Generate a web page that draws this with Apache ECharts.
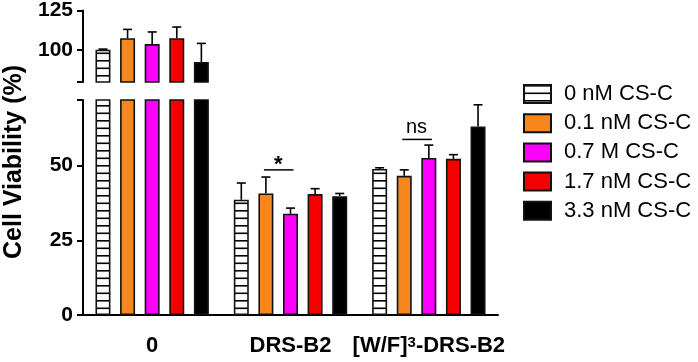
<!DOCTYPE html>
<html>
<head>
<meta charset="utf-8">
<script src="https://cdn.jsdelivr.net/npm/echarts@6/dist/echarts.min.js"></script>
<style>
  html, body { margin: 0; padding: 0; background: #fff; }
  #chart { width: 698px; height: 362px; }
</style>
</head>
<body>
<div id="chart"></div>
<script>
// data
const categories = ['0', 'DRS-B2', '[W/F]3-DRS-B2'];
const seriesNames = ['0 nM CS-C', '0.1 nM CS-C', '0.7 M CS-C', '1.7 nM CS-C', '3.3 nM CS-C'];
const cs0  = [100.3, 38.6, 48.9];
const cs01 = [107.6, 40.7, 46.6];
const cs07 = [103.9, 33.9, 52.6];
const cs17 = [107.6, 40.5, 52.3];
const cs33 = [92.6, 39.8, 63.1];
const err0  = [0.4, 5.6, 0.4];
const err01 = [5.5, 5.5, 2.0];
const err07 = [7.6, 1.9, 4.3];
const err17 = [7.0, 1.8, 1.4];
const err33 = [11.7, 0.9, 7.3];
const upperTicks = [100, 125];
const lowerTicks = [0, 25, 50];
const sigGroups = [1, 2];
const sigFrom = [1, 1];
const sigTo = [2, 2];
const sigHeights = [48.6, 58.8];
const sigLabels = ['*', 'ns'];

const means = [cs0, cs01, cs07, cs17, cs33];
const errs = [err0, err01, err07, err17, err33];

const FONT = '"Liberation Sans", Arial, Helvetica, sans-serif';
const BAR_W = 15;
const BAR_GAP = 0.64;
const STEP = BAR_W * (1 + BAR_GAP);

function hatch() {
    const c = document.createElement('canvas');
    c.width = 8; c.height = 15;
    const g = c.getContext('2d');
    g.fillStyle = '#fff';
    g.fillRect(0, 0, 8, 15);
    g.fillStyle = '#000';
    g.fillRect(0, 0, 8, 1.6);
    g.fillRect(0, 7.5, 8, 1.6);
    return c;
}

const fills = [{image: hatch(), repeat: 'repeat'}, '#F7861C', '#FF00FF', '#F50000', '#000000'];

let bars = [];
[0, 1].forEach(gi => {
    seriesNames.forEach((name, i) => {
        bars.push({
            name: name, type: 'bar', xAxisIndex: gi, yAxisIndex: gi,
            barWidth: BAR_W, barGap: (BAR_GAP * 100) + '%',
            itemStyle: {color: fills[i], borderColor: '#111', borderWidth: 1.6},
            data: means[i],
            clip: true, z: 2
        });
    });
});

let errData = [];
means.forEach((m, s) => {
    m.forEach((v, c) => errData.push([c, s, v, v + errs[s][c]]));
});

function renderErr(params, api) {
    const cs = params.coordSys;
    const c = api.value(0), s = api.value(1);
    const p0 = api.coord([c, api.value(2)]);
    const p1 = api.coord([c, api.value(3)]);
    if (p0[1] < cs.y - 1 || p0[1] > cs.y + cs.height + 1) return null;
    const x = p0[0] + (s - 2) * STEP;
    const st = {stroke: '#000', lineWidth: 1.6};
    return {
        type: 'group',
        children: [
            {type: 'line', shape: {x1: x, y1: p0[1], x2: x, y2: p1[1]}, style: st},
            {type: 'line', shape: {x1: x - 4.5, y1: p1[1], x2: x + 4.5, y2: p1[1]}, style: st}
        ]
    };
}

let errSeries = [0, 1].map(gi => ({
    type: 'custom', xAxisIndex: gi, yAxisIndex: gi, z: 3,
    renderItem: renderErr, data: errData, silent: true
}));

let sigData = sigGroups.map((g, k) => [g, sigFrom[k], sigTo[k], sigHeights[k], k]);

let sigSeries = {
    type: 'custom', xAxisIndex: 1, yAxisIndex: 1, z: 4, silent: true,
    renderItem: (params, api) => {
        const c = api.value(0);
        const p = api.coord([c, api.value(3)]);
        const x1 = p[0] + (api.value(1) - 2) * STEP;
        const x2 = p[0] + (api.value(2) - 2) * STEP;
        const label = sigLabels[api.value(4)];
        const star = label === '*';
        return {
            type: 'group',
            children: [
                {type: 'line', shape: {x1: x1 - 2, y1: p[1], x2: x2 + 3, y2: p[1]},
                    style: {stroke: '#000', lineWidth: 1.5}},
                {type: 'text', style: {
                    text: label, x: (x1 + x2) / 2, y: star ? p[1] + 6 : p[1] - 2,
                    align: 'center', verticalAlign: 'bottom',
                    font: (star ? 'bold 22px ' : '20px ') + FONT, fill: '#000'
                }}
            ]
        };
    },
    data: sigData
};

const axisCommon = {
    axisLine: {show: true, lineStyle: {color: '#000', width: 2}},
    axisTick: {show: true, length: 6, lineStyle: {color: '#000', width: 2}},
    axisLabel: {color: '#000', fontSize: 21, fontWeight: 'bold', fontFamily: FONT, margin: 10},
    splitLine: {show: false}
};

const option = {
    animation: false,
    backgroundColor: '#fff',
    grid: [
        {left: 83, right: 200, top: 10, height: 72},
        {left: 83, right: 200, top: 100, bottom: 47}
    ],
    xAxis: [
        {type: 'category', gridIndex: 0, data: categories, show: false},
        {type: 'category', gridIndex: 1, data: categories,
            axisLine: {lineStyle: {color: '#000', width: 2}},
            axisTick: {alignWithLabel: true, interval: 0, length: 6, lineStyle: {color: '#000', width: 2}},
            axisLabel: {
                interval: 0, hideOverlap: false,
                color: '#000', fontSize: 22, fontWeight: 'bold', fontFamily: FONT, margin: 20,
                formatter: v => v === '[W/F]3-DRS-B2' ? '[W/F]{sup|3}-DRS-B2' : v,
                rich: {sup: {fontSize: 15, fontWeight: 'bold', fontFamily: FONT, color: '#000',
                    verticalAlign: 'top', lineHeight: 14}}
            }
        }
    ],
    yAxis: [
        Object.assign({}, axisCommon, {
            type: 'value', gridIndex: 0, min: 80, max: 125,
            axisTick: Object.assign({}, axisCommon.axisTick, {customValues: [80].concat(upperTicks)}),
            axisLabel: Object.assign({}, axisCommon.axisLabel, {customValues: upperTicks})
        }),
        Object.assign({}, axisCommon, {
            type: 'value', gridIndex: 1, min: 0, max: 72,
            axisTick: Object.assign({}, axisCommon.axisTick, {customValues: lowerTicks.concat([72])}),
            axisLabel: Object.assign({}, axisCommon.axisLabel, {customValues: lowerTicks})
        })
    ],
    legend: {
        data: seriesNames, orient: 'vertical', left: 523, top: 83, padding: 0,
        itemWidth: 27, itemHeight: 18, itemGap: 7.2, icon: 'rect',
        textStyle: {fontSize: 22, fontFamily: FONT, color: '#000', lineHeight: 18, padding: [0, 0, 0, 8]}
    },
    graphic: [{
        type: 'text', x: 14, y: 162, rotation: Math.PI / 2,
        style: {text: 'Cell Viability (%)', align: 'center', verticalAlign: 'middle',
            font: 'bold 25px ' + FONT, fill: '#000'}
    }],
    series: bars.concat(errSeries, [sigSeries])
};

let chart = echarts.init(document.getElementById('chart'));
chart.setOption(option);
</script>
</body>
</html>
